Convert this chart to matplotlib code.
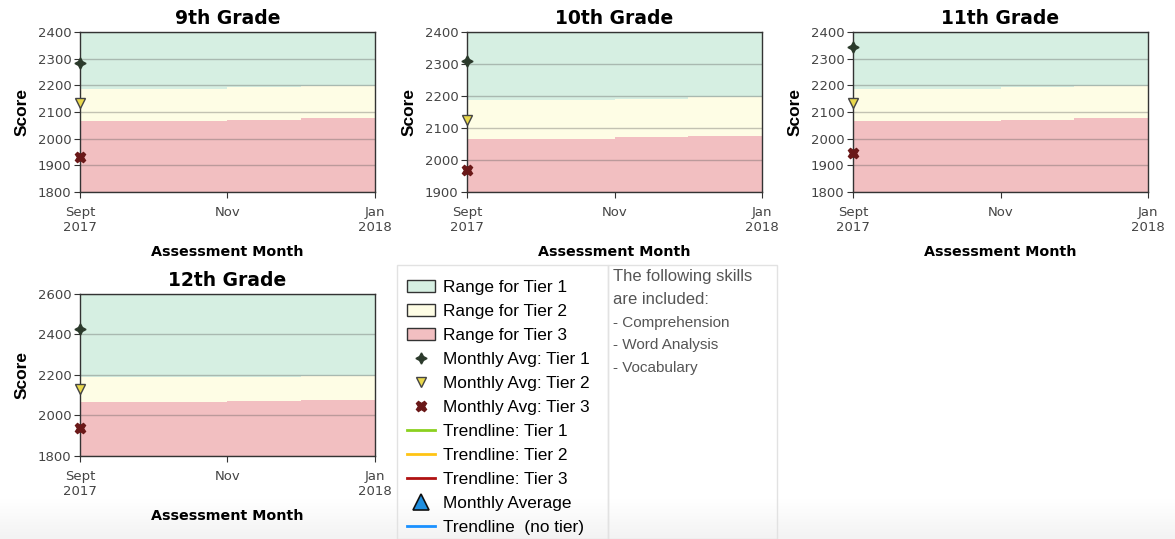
import numpy as np
import matplotlib
matplotlib.use("Agg")
import matplotlib.pyplot as plt
from matplotlib.patches import Patch, Rectangle
from matplotlib.lines import Line2D

# ---------------- data ----------------
grades = ["9th Grade", "10th Grade", "11th Grade", "12th Grade"]
months = [0, 1, 2, 3, 4]                     # Sept, Oct, Nov, Dec, Jan
tick_positions = [0, 2, 4]
tick_labels = ["Sept\n2017", "Nov", "Jan\n2018"]

# tier cut scores per month (top of tier 3 / top of tier 2)
tier3_top = [2065, 2065, 2071, 2076, 2076]
tier2_top = [2188, 2188, 2192, 2197, 2197]

# axis ranges and ticks per grade
y_min = [1800, 1900, 1800, 1800]
y_max = [2400, 2400, 2400, 2600]
y_step = [100, 100, 100, 200]

# September monthly averages by tier
avg_tier1 = [2285, 2310, 2345, 2425]
avg_tier2 = [2135, 2125, 2135, 2130]
avg_tier3 = [1930, 1970, 1945, 1940]

legend_labels = ["Range for Tier 1", "Range for Tier 2", "Range for Tier 3",
                 "Monthly Avg: Tier 1", "Monthly Avg: Tier 2", "Monthly Avg: Tier 3",
                 "Trendline: Tier 1", "Trendline: Tier 2", "Trendline: Tier 3",
                 "Monthly Average", "Trendline  (no tier)"]
skills_header = ["The following skills", "are included:"]
skills = ["- Comprehension", "- Word Analysis", "- Vocabulary"]

# ---------------- style ----------------
C_T1 = "#d6efe2"
C_T2 = "#fefde5"
C_T3 = "#f2bfc1"
W, H = 1175, 539
fig = plt.figure(figsize=(W / 100, H / 100), dpi=100)
fig.patch.set_facecolor("white")

# subtle grey gradient at the bottom of the page
bg = fig.add_axes([0, 0, 1, 40 / H], zorder=-10)
grad = np.linspace(0, 1, 60).reshape(-1, 1)
bg.imshow(grad, aspect="auto", cmap=matplotlib.colors.LinearSegmentedColormap.from_list(
    "g", ["#ffffff", "#f3f3f3"]), extent=[0, 1, 0, 1], origin="upper")
bg.axis("off")

# axes boxes in pixels: left, top, right, bottom
boxes = [(80, 32, 375, 192), (467, 32, 762, 192), (853, 32, 1148, 192), (80, 294, 375, 456)]

for i, g in enumerate(grades):
    l, t, r, b = boxes[i]
    ax = fig.add_axes([l / W, (H - b) / H, (r - l) / W, (b - t) / H])
    lo, hi = y_min[i], y_max[i]
    ax.fill_between(months, lo, tier3_top, step="post", color=C_T3, lw=0, zorder=0.5)
    ax.fill_between(months, tier3_top, tier2_top, step="post", color=C_T2, lw=0, zorder=0.5)
    ax.fill_between(months, tier2_top, hi, step="post", color=C_T1, lw=0, zorder=0.5)
    ax.set_xlim(0, 4)
    ax.set_ylim(lo, hi)
    ax.set_yticks(np.arange(lo, hi + 1, y_step[i]))
    ax.set_xticks(tick_positions)
    ax.set_xticklabels(tick_labels, linespacing=1.25)
    ax.yaxis.grid(True, color="#555555", alpha=0.35, lw=1)
    for s in ax.spines.values():
        s.set_color("#333333")
        s.set_linewidth(1)
    ax.tick_params(direction="out", length=4, color="#333333", labelcolor="#444444",
                   labelsize=9.5, pad=2)
    ax.tick_params(axis="x", pad=6)
    for lab in ax.get_xticklabels() + ax.get_yticklabels():
        lab.set_family("DejaVu Sans")
    ax.set_title(g, fontsize=13.5, fontweight="bold", family="DejaVu Sans", pad=6)
    ax.set_ylabel("Score", fontsize=12.5, fontweight="bold", family="Liberation Sans", labelpad=6)
    ax.set_xlabel("Assessment Month", fontsize=10.3, fontweight="bold", family="DejaVu Sans",
                  labelpad=8)
    ax.plot([months[0]], [avg_tier1[i]], marker=(4, 1, 0), ms=8, color="#2b3a2b",
            mec="#2b3a2b", ls="none", clip_on=False, zorder=5)
    ax.plot([months[0]], [avg_tier2[i]], marker="v", ms=7.5, mfc="#e9d84c", mec="#444444",
            mew=1, ls="none", clip_on=False, zorder=5)
    ax.plot([months[0]], [avg_tier3[i]], marker="X", ms=7.5, mfc="#6a1818", mec="#6a1818",
            ls="none", clip_on=False, zorder=5)

# legend boxes
fig.patches.append(Rectangle((397 / W, 0), 211 / W, 274 / H, transform=fig.transFigure,
                             fc="none", ec="#e2e2e2", lw=1, zorder=1))
fig.patches.append(Rectangle((608 / W, 0), 169 / W, 274 / H, transform=fig.transFigure,
                             fc="none", ec="#e2e2e2", lw=1, zorder=1))

handles = [
    Patch(fc=C_T1, ec="#333333", lw=1),
    Patch(fc=C_T2, ec="#333333", lw=1),
    Patch(fc=C_T3, ec="#333333", lw=1),
    Line2D([], [], marker=(4, 1, 0), ms=8, color="#2b3a2b", ls="none"),
    Line2D([], [], marker="v", ms=7.5, mfc="#e9d84c", mec="#444444", ls="none"),
    Line2D([], [], marker="X", ms=7.5, mfc="#6a1818", mec="#6a1818", ls="none"),
    Line2D([], [], color="#8bd01f", lw=2),
    Line2D([], [], color="#ffc414", lw=2),
    Line2D([], [], color="#b01212", lw=2),
    Line2D([], [], marker="^", ms=12, mfc="#1f8fe0", mec="#111111", mew=1.2, ls="none"),
    Line2D([], [], color="#1a90ff", lw=2),
]
leg = fig.legend(handles, legend_labels, loc="upper left",
                 bbox_to_anchor=(407 / W, (H - 280) / H), frameon=False,
                 prop={"family": "Liberation Sans", "size": 12.4},
                 handlelength=1.63, handleheight=0.7, handletextpad=0.45,
                 labelspacing=0.52, borderpad=0.0, borderaxespad=0.0)
leg.set_zorder(3)

for k, s in enumerate(skills_header):
    fig.text(613 / W, 1 - (277 + 23 * k) / H, s, ha="left", va="center", fontsize=12,
             family="Liberation Sans", color="#555555", zorder=3)
for k, s in enumerate(skills):
    fig.text(613 / W, 1 - (323 + 22.5 * k) / H, s, ha="left", va="center", fontsize=11,
             family="Liberation Sans", color="#555555", zorder=3)

fig.savefig("out.png", dpi=100, facecolor="white")
